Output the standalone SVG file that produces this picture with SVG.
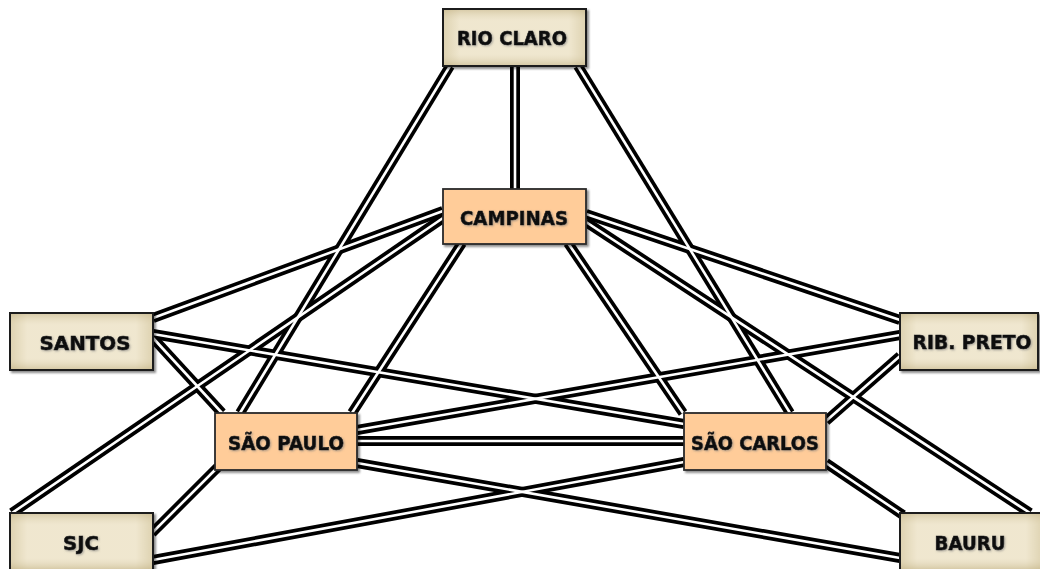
<svg xmlns="http://www.w3.org/2000/svg" xmlns:xlink="http://www.w3.org/1999/xlink" width="1040" height="569" viewBox="0 0 1040 569">
<style>
.cb{fill:none;stroke:#000;stroke-width:10;stroke-linecap:butt}
.cw{fill:none;stroke:#fff;stroke-width:2.6;stroke-linecap:butt}
.beige{stroke:#1a1a1a;stroke-width:2;fill:url(#gh)}
.bev{stroke:none;fill:url(#gv)}
.orange{stroke:#2a2a2a;stroke-width:1.8;fill:#FFCC99}
.lbl{font-family:"DejaVu Sans","Liberation Sans",sans-serif;font-weight:bold;font-size:19.5px;fill:#111;stroke:#111;stroke-width:0.6;text-anchor:middle;filter:url(#ts)}
</style>
<defs>
<linearGradient id="gh" x1="0" y1="0" x2="1" y2="0">
<stop offset="0" stop-color="#D6C9A3"/>
<stop offset="0.12" stop-color="#EEE5CC"/>
<stop offset="0.88" stop-color="#EEE5CC"/>
<stop offset="1" stop-color="#D6C9A3"/>
</linearGradient>
<linearGradient id="gv" x1="0" y1="0" x2="0" y2="1">
<stop offset="0" stop-color="#C8B98F" stop-opacity="0.55"/>
<stop offset="0.2" stop-color="#F4EDD9" stop-opacity="0.25"/>
<stop offset="0.8" stop-color="#F4EDD9" stop-opacity="0.25"/>
<stop offset="1" stop-color="#C8B98F" stop-opacity="0.6"/>
</linearGradient>
<filter id="sh" x="-10%" y="-10%" width="125%" height="130%">
<feDropShadow dx="2" dy="2" stdDeviation="1.2" flood-color="#000" flood-opacity="0.45"/>
</filter>
<filter id="ts" x="-10%" y="-30%" width="120%" height="160%">
<feDropShadow dx="1" dy="1" stdDeviation="0.8" flood-color="#777" flood-opacity="0.6"/>
</filter>
<path id="e1" d="M515,66 L515,189"/>
<path id="e2" d="M450,66 L240,413"/>
<path id="e3" d="M578,66 L790,413"/>
<path id="e4" d="M443,211 L153,318"/>
<path id="e5" d="M443,218 L12,513"/>
<path id="e6" d="M462,243 L352,413"/>
<path id="e7" d="M586,214 L900,320"/>
<path id="e8" d="M586,222 L1030,513"/>
<path id="e9" d="M568,243 L683,413"/>
<path id="e10" d="M153,338 L222,413"/>
<path id="e11" d="M153,334 L684,424"/>
<path id="e12" d="M900,335 L357,430"/>
<path id="e13" d="M900,356 L826,421"/>
<path id="e14" d="M826,463 L903,515"/>
<path id="e15" d="M357,441 L684,441"/>
<path id="e16" d="M357,463 L900,558"/>
<path id="e17" d="M684,462 L153,560"/>
<path id="e18" d="M218,467 L152,533"/>
</defs>
<g id="connectors">
<g class="cb">
<use xlink:href="#e1"/><use xlink:href="#e2"/><use xlink:href="#e3"/><use xlink:href="#e4"/><use xlink:href="#e5"/><use xlink:href="#e6"/><use xlink:href="#e7"/><use xlink:href="#e8"/><use xlink:href="#e9"/><use xlink:href="#e10"/><use xlink:href="#e11"/><use xlink:href="#e12"/><use xlink:href="#e13"/><use xlink:href="#e14"/><use xlink:href="#e15"/><use xlink:href="#e16"/><use xlink:href="#e17"/><use xlink:href="#e18"/>
</g>
<g class="cw">
<use xlink:href="#e1"/><use xlink:href="#e2"/><use xlink:href="#e3"/><use xlink:href="#e4"/><use xlink:href="#e5"/><use xlink:href="#e6"/><use xlink:href="#e7"/><use xlink:href="#e8"/><use xlink:href="#e9"/><use xlink:href="#e10"/><use xlink:href="#e11"/><use xlink:href="#e12"/><use xlink:href="#e13"/><use xlink:href="#e14"/><use xlink:href="#e15"/><use xlink:href="#e16"/><use xlink:href="#e17"/><use xlink:href="#e18"/>
</g>
</g>
<g id="rio-claro">
<rect class="beige" x="443" y="9" width="143" height="57" filter="url(#sh)"/>
<rect class="bev" x="444" y="10" width="141" height="55"/>
<text class="lbl" x="512" y="45" textLength="110" lengthAdjust="spacingAndGlyphs">RIO CLARO</text>
</g>
<g id="campinas">
<rect class="orange" x="443" y="189" width="143" height="55" filter="url(#sh)"/>
<text class="lbl" x="514" y="225" textLength="108" lengthAdjust="spacingAndGlyphs">CAMPINAS</text>
</g>
<g id="santos">
<rect class="beige" x="10" y="313" width="143" height="57" filter="url(#sh)"/>
<rect class="bev" x="11" y="314" width="141" height="55"/>
<text class="lbl" x="85" y="350" textLength="91" lengthAdjust="spacingAndGlyphs">SANTOS</text>
</g>
<g id="rib-preto">
<rect class="beige" x="900" y="313" width="138" height="57" filter="url(#sh)"/>
<rect class="bev" x="901" y="314" width="136" height="55"/>
<text class="lbl" x="972" y="349" textLength="119" lengthAdjust="spacingAndGlyphs">RIB. PRETO</text>
</g>
<g id="sao-paulo">
<rect class="orange" x="215" y="413" width="142" height="57" filter="url(#sh)"/>
<text class="lbl" x="286" y="450" textLength="116" lengthAdjust="spacingAndGlyphs">SÃO PAULO</text>
</g>
<g id="sao-carlos">
<rect class="orange" x="684" y="413" width="142" height="57" filter="url(#sh)"/>
<text class="lbl" x="755" y="450" textLength="128" lengthAdjust="spacingAndGlyphs">SÃO CARLOS</text>
</g>
<g id="sjc">
<rect class="beige" x="10" y="513" width="143" height="57" filter="url(#sh)"/>
<rect class="bev" x="11" y="514" width="141" height="55"/>
<text class="lbl" x="81" y="550" textLength="36" lengthAdjust="spacingAndGlyphs">SJC</text>
</g>
<g id="bauru">
<rect class="beige" x="900" y="513" width="143" height="57" filter="url(#sh)"/>
<rect class="bev" x="901" y="514" width="141" height="55"/>
<text class="lbl" x="970" y="550" textLength="71" lengthAdjust="spacingAndGlyphs">BAURU</text>
</g>
</svg>
